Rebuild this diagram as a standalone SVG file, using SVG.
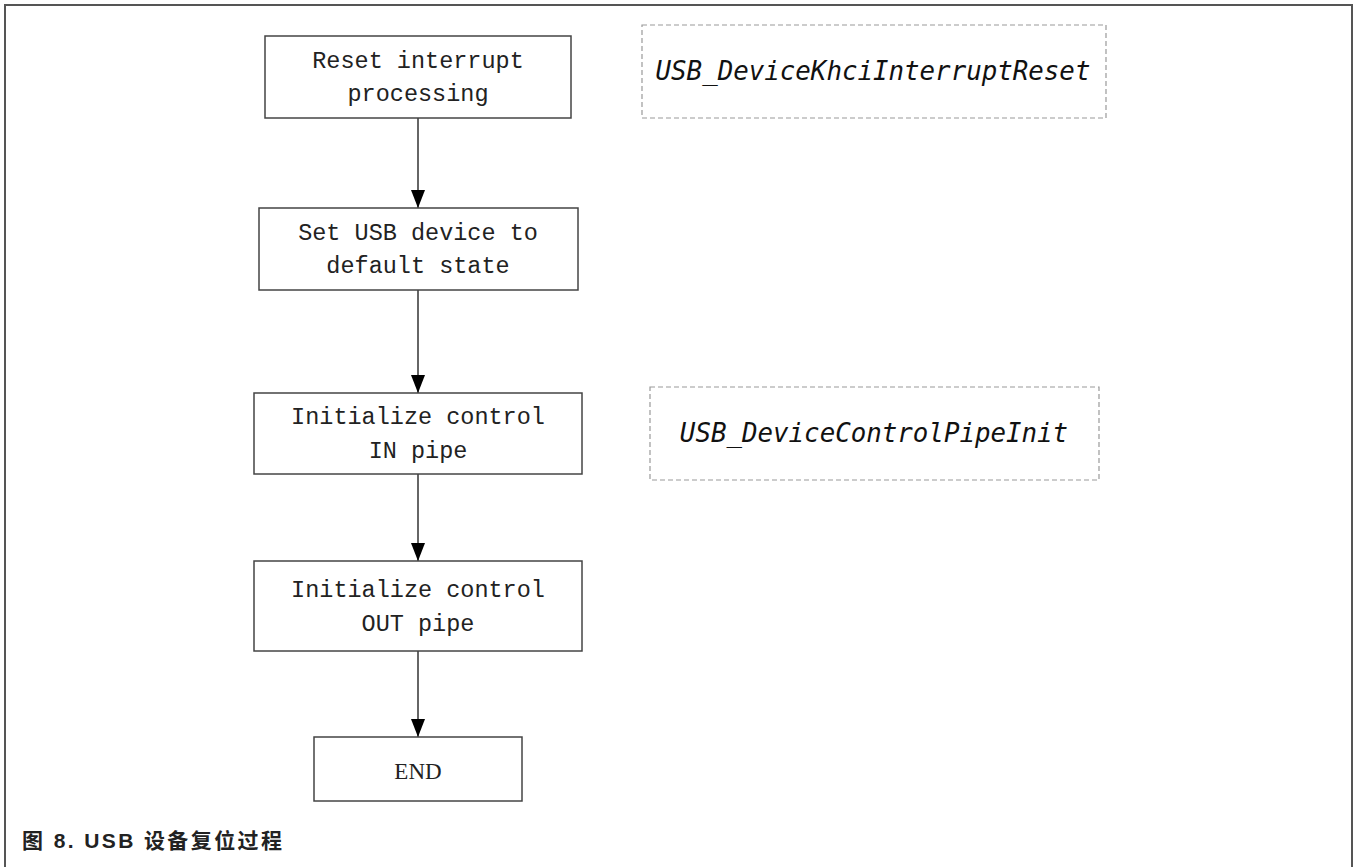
<svg xmlns="http://www.w3.org/2000/svg" width="1354" height="867" viewBox="0 0 1354 867">
<style>
.box{fill:#fff;stroke:#444;stroke-width:1.5}
.dash{fill:#fff;stroke:#999;stroke-width:1.2;stroke-dasharray:5,3}
.t{font-family:"Liberation Mono",monospace;font-size:23.5px;fill:#222;text-anchor:middle}
.fn{font-family:"DejaVu Sans Mono",monospace;font-style:italic;font-size:25.8px;fill:#111;text-anchor:middle}
.end{font-family:"Liberation Serif",serif;font-size:23px;fill:#222;text-anchor:middle}
.cap{font-family:"Liberation Sans","Noto Sans CJK SC",sans-serif;font-weight:bold;font-size:21px;letter-spacing:2.4px;fill:#222}
.c{stroke:#333;stroke-width:1.5;fill:none;marker-end:url(#ah)}
</style>
<defs>
<marker id="ah" markerWidth="18" markerHeight="14" refX="18" refY="7" orient="auto" markerUnits="userSpaceOnUse" viewBox="0 0 18 14">
<path d="M0,0 L18,7 L0,14 Z" fill="#000"/>
</marker>
</defs>
<rect width="1354" height="867" fill="#fff"/>
<path d="M5,867 V5 H1352 V867" fill="none" stroke="#555" stroke-width="2"/>
<g id="connectors">
<path class="c" d="M418,118 V208"/>
<path class="c" d="M418,290 V393"/>
<path class="c" d="M418,474 V561"/>
<path class="c" d="M418,651 V737"/>
</g>
<g id="n1"><rect class="box" x="265" y="36" width="306" height="82"/><text class="t" x="418" y="68">Reset interrupt</text><text class="t" x="418" y="101">processing</text></g>
<g id="n2"><rect class="box" x="259" y="208" width="319" height="82"/><text class="t" x="418" y="240">Set USB device to</text><text class="t" x="418" y="273">default state</text></g>
<g id="n3"><rect class="box" x="254" y="393" width="328" height="81"/><text class="t" x="418" y="424">Initialize control</text><text class="t" x="418" y="458">IN pipe</text></g>
<g id="n4"><rect class="box" x="254" y="561" width="328" height="90"/><text class="t" x="418" y="597">Initialize control</text><text class="t" x="418" y="631">OUT pipe</text></g>
<g id="n5"><rect class="box" x="314" y="737" width="208" height="64"/><text class="end" x="418" y="779">END</text></g>
<g id="f1"><rect class="dash" x="642" y="25" width="464" height="93"/><text class="fn" x="873" y="80">USB_DeviceKhciInterruptReset</text></g>
<g id="f2"><rect class="dash" x="650" y="387" width="449" height="93"/><text class="fn" x="874" y="442">USB_DeviceControlPipeInit</text></g>
<text class="cap" x="22" y="848">图 8. USB 设备复位过程</text>
</svg>
